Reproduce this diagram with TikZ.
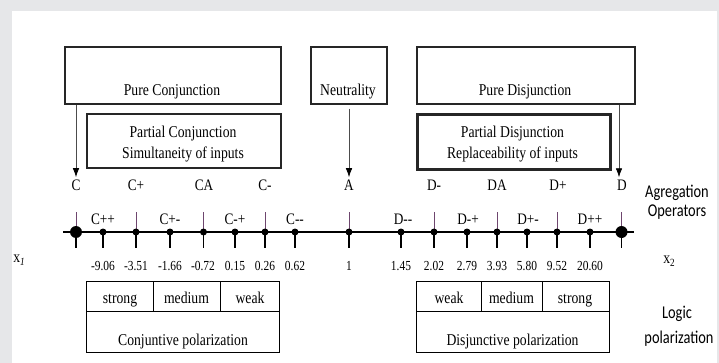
\documentclass[tikz,border=0pt]{standalone}
\usepackage{fontspec}
\setmainfont{Liberation Serif}[FakeStretch=0.83]
\newfontfamily\sansc{Carlito}[FakeStretch=0.8]
\usetikzlibrary{arrows.meta}
\definecolor{framegray}{RGB}{230,231,233}
\definecolor{stemp}{RGB}{110,70,110}
\begin{document}
\begin{tikzpicture}[x=1pt,y=-1pt,
  box/.style={draw=black!85, line width=1.6pt, inner sep=0pt, anchor=north west},
  tt/.style={inner sep=0pt, anchor=base, font=\fontsize{16.5}{19}\selectfont},
  lab/.style={inner sep=0pt, anchor=base, font=\fontsize{16}{18}\selectfont},
  num/.style={inner sep=0pt, anchor=base, font=\fontsize{13.8}{16}\selectfont},
  sl/.style={inner sep=0pt, anchor=base, font=\sansc\fontsize{18}{20}\selectfont},
  cell/.style={draw=black, line width=1.4pt, inner sep=0pt, anchor=north west},
  bigdot/.style={circle, fill=black, inner sep=0pt, minimum size=12pt},
  smalldot/.style={circle, fill=black, inner sep=0pt, minimum size=7pt},
  upstem/.style={draw=stemp, line width=0.9pt},
  lowstem/.style={draw=black, line width=1.6pt},
  axisline/.style={draw=black, line width=2pt},
  arr/.style={draw=black!70, line width=0.8pt, -{Latex[length=9pt,width=6.5pt,black]}}
]
\fill[framegray] (0,0) rectangle (719,363);
\fill[white] (12,11) rectangle (717,363);
\useasboundingbox (0,0) rectangle (719,363);

% top boxes
\node[box, minimum width=216pt, minimum height=57pt] (pcbox) at (64,46) {};
\node[box, minimum width=76pt, minimum height=57pt] (ntbox) at (310,46) {};
\node[box, minimum width=218pt, minimum height=57pt] (pdbox) at (416,46) {};
\node[box, line width=2pt, minimum width=194pt, minimum height=54pt] (pcpbox) at (86,113) {};
\node[box, line width=3pt, minimum width=193pt, minimum height=55pt] (pdpbox) at (416,113) {};

\node[tt] (tpc) at (172,96) {Pure Conjunction};
\node[tt] (tnt) at (348,96) {Neutrality};
\node[tt] (tpd) at (525,96) {Pure Disjunction};
\node[tt] (tpc1) at (183,138) {Partial Conjunction};
\node[tt] (tpc2) at (183,159) {Simultaneity of inputs};
\node[tt] (tpd1) at (512.5,138) {Partial Disjunction};
\node[tt] (tpd2) at (512.5,159) {Replaceability of inputs};

% operator labels
\foreach \n/\x/\t in {C/76/C, Cp/136/C+, CA/204/CA, Cm/265/C-, A/349/A, Dm/434/D-, DA/497/DA, Dp/558/D+, D/622/D}
  \node[lab] (l\n) at (\x,191) {\t};

\draw[arr] (pcbox.south -| lC) -- ([yshift=3pt]lC.north);
\draw[arr, shorten <=4pt] (ntbox.south -| lA) -- ([yshift=3pt]lA.north);
\draw[arr] ([xshift=-3pt]pdbox.south -| lD) -- ([xshift=-3pt,yshift=3pt]lD.north);

\node[sl] (ag1) at (677,197) {Agregation};
\node[sl] (ag2) at (677,217) {Operators};

% axis ticks
\foreach \n/\x in {C/76, Cp/136, CA/203.5, Cm/265, A/349, Dm/434, DA/497, Dp/557, D/621.5}{
  \coordinate (t\n) at (\x,232);
  \draw[upstem] (t\n) -- ++(0,-20);
  \draw[lowstem] (t\n) -- ++(0,16);
}
\foreach \n/\x in {Cpp/103, Cpm/170, Cmp/235, Cmm/295, Dmm/401, Dmp/467, Dpm/527, Dpp/590}{
  \coordinate (t\n) at (\x,232);
  \draw[lowstem] (t\n) -- ++(0,16);
}
\coordinate (axL) at (63,232);
\coordinate (axR) at (634,232);
\draw[axisline] (axL) -- (axR);
\node[bigdot] (dC) at (tC) {};
\node[bigdot] (dD) at (tD) {};
\foreach \n in {Cp, CA, Cm, A, Dm, DA, Dp, Cpp, Cpm, Cmp, Cmm, Dmm, Dmp, Dpm, Dpp}
  \node[smalldot] (d\n) at (t\n) {};

% small operator labels
\foreach \n/\x/\t in {Cpp/103/C++, Cpm/170/C+-, Cmp/235/C-+, Cmm/295/C-{}-, Dmm/403/D-{}-, Dmp/468/D-+, Dpm/528/D+-, Dpp/590/D++}
  \node[lab] (s\n) at (\x,224) {\t};

% numbers
\foreach \n/\x/\t in {a/103/-9.06, b/136/-3.51, c/170/-1.66, d/203/-0.72, e/235/0.15, f/265/0.26, g/295/0.62, h/349/1, i/401/1.45, j/434/2.02, k/467/2.79, l/497/3.93, m/527/5.80, n/557/9.52, o/590/20.60}
  \node[num] (n\n) at (\x,270) {\t};

\node[tt] (xone) at (19,262) {x\raisebox{-3pt}{\fontsize{11}{12}\selectfont\itshape 1}};
\node[tt] (xtwo) at (669,263) {x\raisebox{-3pt}{\fontsize{11}{12}\selectfont 2}};

% bottom boxes
\node[cell, minimum width=67pt, minimum height=30pt] (cs) at (86,281) {};
\node[cell, minimum width=67pt, minimum height=30pt] (cm) at (153,281) {};
\node[cell, minimum width=59pt, minimum height=30pt] (cw) at (220,281) {};
\node[cell, minimum width=193pt, minimum height=41pt] (cpol) at (86,311) {};
\node[cell, minimum width=65pt, minimum height=30pt] (dw) at (416,281) {};
\node[cell, minimum width=61pt, minimum height=30pt] (dm) at (481,281) {};
\node[cell, minimum width=67pt, minimum height=30pt] (ds) at (542,281) {};
\node[cell, minimum width=193pt, minimum height=41pt] (dpol) at (416,311) {};

\node[tt] (tcs) at (120,303) {strong};
\node[tt] (tcm) at (186.5,303) {medium};
\node[tt] (tcw) at (250,303) {weak};
\node[tt] (tcp) at (183,345) {Conjuntive polarization};
\node[tt] (tdw) at (449,303) {weak};
\node[tt] (tdm) at (511.5,303) {medium};
\node[tt] (tds) at (575,303) {strong};
\node[tt] (tdp) at (512.5,345) {Disjunctive polarization};

\node[sl] (lg1) at (677,318) {Logic};
\node[sl] (lg2) at (679,343) {polarization};
\end{tikzpicture}
\end{document}
